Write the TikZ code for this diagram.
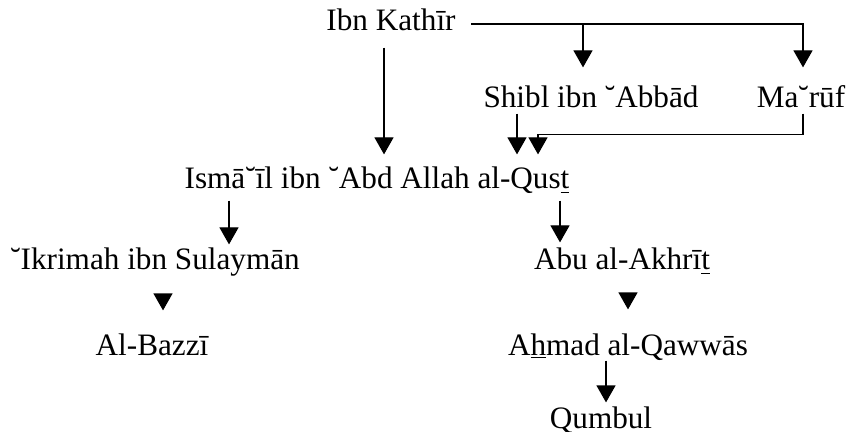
\documentclass[tikz,border=0pt]{standalone}
\usepackage{fontspec}
\setmainfont{Liberation Serif}
\usetikzlibrary{arrows.meta}

\begin{document}
\begin{tikzpicture}[x=0.5pt, y=-0.5pt, >={Triangle[width=9.5pt,length=8.5pt]}, line width=0.6pt,
  every narrator/.style={anchor=base, inner sep=0pt, text height=10.5pt, text depth=3.5pt,
    font=\fontsize{15.6}{18}\selectfont}]

\useasboundingbox (0,0) rectangle (860,432);

\foreach \n/\x/\y/\t in {
  kathir/391/31/{Ibn Kathīr},
  shibl/591/108/{Shibl ibn ˘Abbād},
  maruf/801/108/{Ma˘rūf},
  ismail/377/189/{Ismā˘īl ibn ˘Abd Allah al-Qus\underline{t}},
  ikrimah/155/270/{˘Ikrimah ibn Sulaymān},
  abu/622/270/{Abu al-Akhrī\underline{t}},
  bazzi/152/355/{Al-Bazzī},
  ahmad/628/355/{A\underline{h}mad al-Qawwās},
  qumbul/601/428/{Qumbul}}
  \node [every narrator/.try] (\n) at (\x,\y) {\t};

\foreach \a/\b/\x/\s/\e in {
  kathir/ismail/384/4.5pt/6.5pt,
  shibl/ismail/517/-1pt/6.5pt,
  ismail/ikrimah/229/2pt/2pt,
  ismail/abu/560/2pt/3pt,
  ikrimah/bazzi/163/8.5pt/11.5pt,
  abu/ahmad/628/8pt/12pt,
  ahmad/qumbul/606/-1pt/2pt}
  \draw [->, shorten <=\s, shorten >=\e] (\x,0 |- \a.south) -- (\x,0 |- \b.north);

\draw [->, shorten <=7.5pt, shorten >=9.5pt] (kathir.east) -| (583,0 |- shibl.north);
\draw [->, shorten <=7.5pt, shorten >=9.5pt] (kathir.east) -| (803,0 |- maruf.north);

\draw [->, shorten <=-1pt, shorten >=6.5pt] (803,0 |- maruf.south) -- ++(0,19) -| (538,0 |- ismail.north);

\end{tikzpicture}
\end{document}
